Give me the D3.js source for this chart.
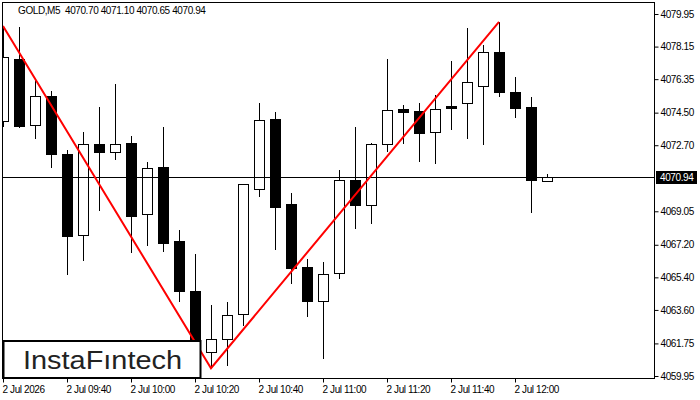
<!DOCTYPE html>
<html>
<head>
<meta charset="utf-8">
<script src="https://cdn.jsdelivr.net/npm/d3@7"></script>
<style>
  body { margin: 0; background: #fff; }
  text { font-family: "Liberation Sans", Arial, sans-serif; }
</style>
</head>
<body>
<div id="chart-area"></div>
<script>
/*
*    gold m5 chart
*/

var timeLabels = ["2 Jul 2026", "2 Jul 09:40", "2 Jul 10:00", "2 Jul 10:20", "2 Jul 10:40",
    "2 Jul 11:00", "2 Jul 11:20", "2 Jul 11:40", "2 Jul 12:00"];
var labelEvery = 4;

var opens  = [4074.04, 4077.45, 4073.80, 4075.40, 4072.20, 4067.72, 4072.75, 4072.31, 4072.81, 4068.88,
              4071.50, 4067.41, 4064.65, 4061.26, 4061.98, 4063.36, 4070.26, 4074.15, 4069.45, 4065.97,
              4064.08, 4065.62, 4070.76, 4069.38, 4072.75, 4074.69, 4074.57, 4073.41, 4074.88, 4075.02,
              4075.96, 4077.83, 4075.62, 4074.80, 4070.70];
var highs  = [4079.29, 4079.25, 4076.30, 4075.71, 4072.44, 4073.41, 4074.80, 4076.08, 4073.21, 4071.77,
              4073.72, 4068.02, 4066.67, 4063.87, 4064.02, 4070.56, 4075.05, 4074.54, 4070.06, 4066.41,
              4066.25, 4071.33, 4073.69, 4072.82, 4077.48, 4074.92, 4075.02, 4075.47, 4077.35, 4079.18,
              4078.24, 4079.52, 4076.47, 4075.36, 4071.10];
var lows   = [4073.71, 4073.67, 4073.06, 4071.46, 4065.53, 4066.32, 4069.08, 4071.88, 4066.73, 4067.15,
              4066.78, 4064.06, 4060.94, 4060.38, 4060.50, 4062.73, 4069.86, 4066.91, 4065.05, 4063.23,
              4060.87, 4065.29, 4068.09, 4068.33, 4072.34, 4072.78, 4071.79, 4071.68, 4073.56, 4073.06,
              4072.73, 4075.38, 4074.22, 4068.97, 4070.65];
var closes = [4077.56, 4073.78, 4075.40, 4072.23, 4067.70, 4072.75, 4072.31, 4072.75, 4068.81, 4071.42,
              4067.31, 4064.66, 4061.39, 4061.98, 4063.30, 4070.54, 4074.08, 4069.30, 4065.93, 4064.11,
              4065.57, 4070.76, 4069.41, 4072.75, 4074.63, 4074.55, 4073.39, 4074.69, 4074.77, 4076.18,
              4077.83, 4075.66, 4074.77, 4070.76, 4070.94];

var priceTicks = [4079.95, 4078.15, 4076.35, 4074.50, 4072.70, 4069.05, 4067.20, 4065.40, 4063.60, 4061.75, 4059.95];
var lastPrice = 4070.94;

var patternIdx = [0, 13, 31];
var patternPrice = [4079.29, 4060.38, 4079.52];

var header = "GOLD,M5  4070.70 4071.10 4070.65 4070.94";

// plot frame (don't use "top", it's window.top)
var pLeft = 2, pRight = 654, pTop = 2, pBottom = 378;

var svg = d3.select("#chart-area").append("svg")
    .attr("width", 700)
    .attr("height", 400);

var x = d3.scaleLinear().domain([0, 34]).range([3, 547]);
var y = d3.scaleLinear().domain([4059.95, 4079.95]).range([376, 14]);

var candles = opens.map(function(o, i) {
    return {i: i, o: o, h: highs[i], l: lows[i], c: closes[i]};
});

svg.append("clipPath").attr("id", "clip")
    .append("rect")
    .attr("x", pLeft)
    .attr("y", pTop)
    .attr("width", pRight - pLeft)
    .attr("height", pBottom - pTop);

var plot = svg.append("g")
    .attr("clip-path", "url(#clip)");

// wicks
plot.selectAll(".wick").data(candles).enter().append("line")
    .attr("class", "wick")
    .attr("x1", function(d) { return Math.round(x(d.i)) + 0.5; })
    .attr("x2", function(d) { return Math.round(x(d.i)) + 0.5; })
    .attr("y1", function(d) { return Math.round(y(d.h)); })
    .attr("y2", function(d) { return Math.round(y(d.l)); })
    .attr("stroke", "black")
    .attr("stroke-width", 1)
    .attr("shape-rendering", "crispEdges");

// bodies
plot.selectAll(".body").data(candles).enter().append("rect")
    .attr("class", "body")
    .attr("x", function(d) { return Math.round(x(d.i)) - 4.5; })
    .attr("y", function(d) { return Math.round(y(Math.max(d.o, d.c))) + 0.5; })
    .attr("width", 10)
    .attr("height", function(d) { return Math.max(1, Math.round(y(Math.min(d.o, d.c))) - Math.round(y(Math.max(d.o, d.c)))); })
    .attr("fill", function(d) { return d.c >= d.o ? "white" : "black"; })
    .attr("stroke", "black")
    .attr("stroke-width", 1)
    .attr("shape-rendering", "crispEdges");

// last price line
plot.append("line")
    .attr("x1", pLeft)
    .attr("x2", pRight)
    .attr("y1", Math.round(y(lastPrice)) + 0.5)
    .attr("y2", Math.round(y(lastPrice)) + 0.5)
    .attr("stroke", "black")
    .attr("stroke-width", 1)
    .attr("shape-rendering", "crispEdges");

// pattern line
var patternLine = d3.line()
    .x(function(d, i) { return x(patternIdx[i]); })
    .y(function(d) { return y(d); });

plot.append("path")
    .attr("d", patternLine(patternPrice))
    .attr("fill", "none")
    .attr("stroke", "#ff0000")
    .attr("stroke-width", 2);

// frame
svg.append("rect")
    .attr("x", pLeft + 0.5)
    .attr("y", pTop + 0.5)
    .attr("width", pRight - pLeft)
    .attr("height", pBottom - pTop)
    .attr("fill", "none")
    .attr("stroke", "black")
    .attr("stroke-width", 1)
    .attr("shape-rendering", "crispEdges");

// price axis
var yAxis = d3.axisRight(y)
    .tickValues(priceTicks)
    .tickFormat(d3.format(".2f"))
    .tickSize(4)
    .tickPadding(2);

var ya = svg.append("g")
    .attr("transform", "translate(" + (pRight + 0.5) + ",0)")
    .call(yAxis);
ya.select(".domain").remove();
ya.selectAll("line").attr("stroke", "black");
ya.selectAll("text")
    .attr("font-family", "Liberation Sans, Arial, sans-serif")
    .attr("font-size", 10)
    .attr("letter-spacing", "-0.4px")
    .attr("fill", "black");

// last price label
svg.append("rect")
    .attr("x", 656)
    .attr("y", Math.round(y(lastPrice)) - 6)
    .attr("width", 41)
    .attr("height", 13)
    .attr("fill", "black");

svg.append("text")
    .attr("x", 660)
    .attr("y", y(lastPrice) + 4)
    .attr("font-size", 10)
    .attr("letter-spacing", "-0.4px")
    .attr("fill", "white")
    .text(d3.format(".2f")(lastPrice));

// time axis
var tickIdx = timeLabels.map(function(d, i) { return i * labelEvery; });

var xAxis = d3.axisBottom(x)
    .tickValues(tickIdx)
    .tickFormat(function(d, i) { return timeLabels[i]; })
    .tickSize(4)
    .tickPadding(3);

var xa = svg.append("g")
    .attr("transform", "translate(0," + (pBottom + 0.5) + ")")
    .call(xAxis);
xa.select(".domain").remove();
xa.selectAll("line").attr("stroke", "black");
xa.selectAll("text")
    .attr("text-anchor", "start")
    .attr("x", -1)
    .attr("font-family", "Liberation Sans, Arial, sans-serif")
    .attr("font-size", 10)
    .attr("letter-spacing", "-0.4px")
    .attr("fill", "black");

// header
svg.append("text")
    .attr("x", 18)
    .attr("y", 14)
    .attr("font-size", 10)
    .attr("letter-spacing", "-0.4px")
    .attr("fill", "black")
    .style("white-space", "pre")
    .text(header);

// logo
svg.append("rect")
    .attr("x", 3.5)
    .attr("y", 341)
    .attr("width", 197)
    .attr("height", 37)
    .attr("fill", "white")
    .attr("stroke", "black")
    .attr("stroke-width", 2);

svg.append("text")
    .attr("x", 23)
    .attr("y", 369)
    .attr("font-family", "Lato, sans-serif")
    .attr("font-size", 26)
    .attr("textLength", 159)
    .attr("lengthAdjust", "spacingAndGlyphs")
    .attr("fill", "#222")
    .text("InstaF\u0131ntech");
</script>
</body>
</html>
